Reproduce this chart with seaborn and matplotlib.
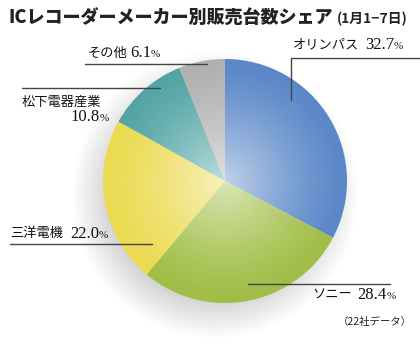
#-------------------------------------------------------------------------------
# IC recorder maker share pie chart (Jan 1-7)
#-------------------------------------------------------------------------------
import numpy as np
import matplotlib
matplotlib.use("Agg")
import matplotlib.pyplot as plt
import seaborn as sns
from matplotlib.patches import Circle

# --------------------------------------
# Data
# --------------------------------------
makers = ["オリンパス", "ソニー", "三洋電機", "松下電器産業", "その他"]
shares = [32.7, 28.4, 22.0, 10.8, 6.1]
colors = ["#5a87c8", "#a0bd45", "#ecda50", "#52a4a4", "#b0b0b0"]
title = "ICレコーダーメーカー別販売台数シェア"
subtitle = "(1月1−7日)"
note = "（22社データ）"

# --------------------------------------
# Figure (pixel coordinates, origin bottom-left)
# --------------------------------------
sns.set_style("white")
plt.rcParams["font.family"] = ["Noto Sans CJK JP", "DejaVu Sans"]

W, H = 420, 354
fig = plt.figure(figsize=(W / 100, H / 100), dpi=100)
ax = fig.add_axes([0, 0, 1, 1])

def Y(y):
    # image row -> data y
    return H - y

cx, cy, r = 225, Y(181), 122

# soft shadow below the pie
n = 300
gx = np.linspace(-1.4, 1.4, n)
XX, YY = np.meshgrid(gx, gx)
d = np.sqrt(XX ** 2 + YY ** 2)
sh = np.zeros((n, n, 4))
sh[..., :3] = 0.55
sh[..., 3] = 0.4 * np.clip((1.18 - d) / 0.33, 0, 1)
ax.imshow(sh, extent=[cx - 10 - 1.4 * r, cx - 10 + 1.4 * r, cy - 14 - 1.4 * r, cy - 14 + 1.4 * r],
          origin="lower", zorder=0, interpolation="bilinear")

wedges, _ = ax.pie(shares, colors=colors, startangle=90, counterclock=False,
                   center=(cx, cy), radius=r, frame=True,
                   wedgeprops=dict(linewidth=0))

# light radial highlight toward the center
hl = np.ones((n, n, 4))
gx2 = np.linspace(-1, 1, n)
X2, Y2 = np.meshgrid(gx2, gx2)
d2 = np.sqrt(X2 ** 2 + Y2 ** 2)
hl[..., 3] = 0.62 * np.clip(1 - d2, 0, 1) ** 1.3
im = ax.imshow(hl, extent=[cx - r, cx + r, cy - r, cy + r], origin="lower",
               zorder=3, interpolation="bilinear")
im.set_clip_path(Circle((cx, cy), r, transform=ax.transData))

ax.set_xlim(0, W)
ax.set_ylim(0, H)
ax.set_aspect("equal")
ax.axis("off")

# --------------------------------------
# Titles and labels
# --------------------------------------
jp = ["Noto Sans CJK JP", "DejaVu Sans"]
num = ["Liberation Serif", "DejaVu Serif"]

ax.text(8, Y(18), title, fontsize=13, fontweight="heavy", family=jp,
        va="center", ha="left", color="#222222")
ax.text(337, Y(19), subtitle, fontsize=10, fontweight="bold", family=jp,
        va="center", ha="left", color="#222222")

lc = "#444444"

def label(x_txt, y_txt, name, x_num, value, y_num=None):
    ax.text(x_txt, Y(y_txt), name, fontsize=9.5, family=jp, va="center",
            ha="left", color="#111111")
    yn = y_txt if y_num is None else y_num
    t = ax.text(x_num, Y(yn), f"{value:.1f}", fontsize=12, family=num,
                va="center", ha="left", color="#111111")
    ax.annotate("%", xycoords=t, xy=(1, 0.15), fontsize=8, family=num,
                va="bottom", ha="left", color="#111111")

# オリンパス
label(293, 45, makers[0], 365, shares[0])
ax.plot([291, 420], [Y(58), Y(58)], color=lc, lw=1, zorder=5)
ax.plot([291, 291], [Y(58), Y(100)], color=lc, lw=1, zorder=5)

# ソニー
label(312, 295, makers[1], 357, shares[1])
ax.plot([248, 390], [Y(284), Y(284)], color=lc, lw=1, zorder=5)

# 三洋電機
label(10, 234, makers[2], 70, shares[2])
ax.plot([10, 152], [Y(244), Y(244)], color=lc, lw=1, zorder=5)

# 松下電器産業
label(22, 102, makers[3], 70, shares[3], y_num=117)
ax.plot([22, 160], [Y(88), Y(88)], color=lc, lw=1, zorder=5)

# その他
label(88, 53, makers[4], 130, shares[4])
ax.plot([85, 207], [Y(64), Y(64)], color=lc, lw=1, zorder=5)

ax.text(338, Y(322), note, fontsize=7.5, family=jp, va="center", ha="left",
        color="#222222")

fig.savefig("out.png", dpi=100)
